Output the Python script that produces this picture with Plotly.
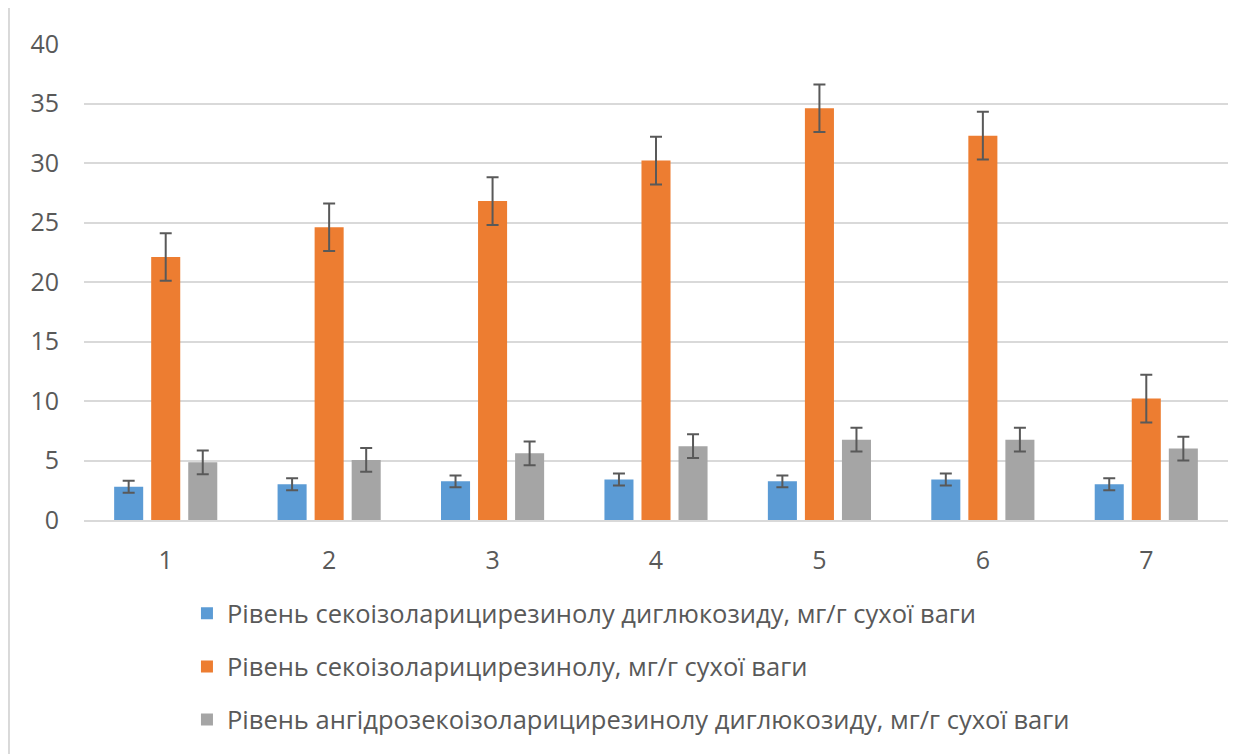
import plotly.graph_objects as go

categories = ["1", "2", "3", "4", "5", "6", "7"]
series_names = [
    "Рівень секоізоларицирезинолу диглюкозиду, мг/г сухої ваги",
    "Рівень секоізоларицирезинолу, мг/г сухої ваги",
    "Рівень ангідрозекоізоларицирезинолу диглюкозиду, мг/г сухої ваги",
]
blue_vals = [2.8, 3.0, 3.25, 3.4, 3.25, 3.4, 3.0]
orange_vals = [22.1, 24.6, 26.8, 30.2, 34.6, 32.3, 10.2]
gray_vals = [4.85, 5.05, 5.6, 6.2, 6.75, 6.75, 6.0]
blue_err = [0.5, 0.5, 0.5, 0.5, 0.5, 0.5, 0.5]
orange_err = [2.0, 2.0, 2.0, 2.0, 2.0, 2.0, 2.0]
gray_err = [1.0, 1.0, 1.0, 1.0, 1.0, 1.0, 1.0]
colors = ["#5B9BD5", "#ED7D31", "#A5A5A5"]
y_ticks = [0, 5, 10, 15, 20, 25, 30, 35, 40]

fig = go.Figure()
for i, (vals, errs) in enumerate([(blue_vals, blue_err), (orange_vals, orange_err), (gray_vals, gray_err)]):
    fig.add_trace(go.Bar(
        x=categories, y=vals, name=series_names[i],
        marker=dict(color=colors[i], line=dict(width=0)),
        error_y=dict(type="data", array=errs, visible=True, color="#595959", thickness=2, width=6),
        legendgroup=f"g{i}",
    ))

font_family = "Open Sans, Noto Sans, DejaVu Sans, sans-serif"
fig.update_layout(
    width=1239, height=746,
    margin=dict(l=76, r=19, t=36, b=233),
    paper_bgcolor="white", plot_bgcolor="white",
    barmode="group", bargap=0.32, bargroupgap=0.216,
    font=dict(family=font_family, color="#595959", size=25),
    showlegend=True,
    legend=dict(
        orientation="v", x=0.09, xanchor="left", y=-0.145, yanchor="top",
        font=dict(size=25.5, color="#595959"),
        traceorder="grouped", tracegroupgap=17,
        itemwidth=30,
    ),
    yaxis=dict(range=[0, 40], tickvals=y_ticks, showgrid=True, gridcolor="#D9D9D9", gridwidth=2,
               zeroline=False, showline=False, ticks="", ticklabelstandoff=24,
               tickfont=dict(size=25, color="#595959")),
    xaxis=dict(showline=True, linecolor="#D9D9D9", linewidth=2, ticks="",
               ticklabelstandoff=17, tickfont=dict(size=25, color="#595959")),
    shapes=[dict(type="line", xref="paper", yref="paper", x0=-0.0656, x1=-0.0656, y0=-0.6, y1=1.1,
                 line=dict(color="#D9D9D9", width=2))],
)
fig.write_html("out.html")
